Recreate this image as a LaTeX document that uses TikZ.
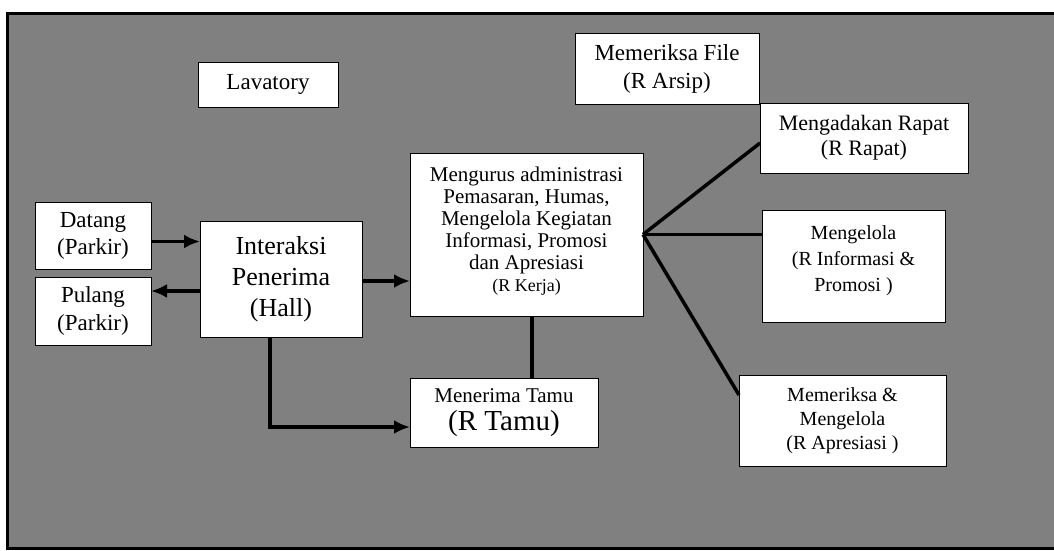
\documentclass[tikz,border=0pt]{standalone}
\usepackage{fontspec}
\setmainfont{Liberation Serif}
\usetikzlibrary{arrows.meta,calc}
\definecolor{bg}{gray}{0.5}
\newcommand{\fs}[2]{\fontsize{#1}{#2}\selectfont}
\begin{document}
\begin{tikzpicture}[x=1pt,y=-1pt,
  box/.style={draw=black, line width=1pt, fill=white, inner sep=0pt, outer sep=0pt, align=center},
  words/.style={inner sep=0pt, align=center},
  link/.style={line width=3.5pt, black},
  arr/.style={link, -{Latex[length=16pt,width=14pt]}}]
\useasboundingbox (0,0) rectangle (1054,550);
% backdrop
\path[fill=white] (0,0) rectangle (1054,550);
\draw[line width=3pt, fill=bg] (7,13) rectangle (1060,548);

% rooms
\node[box, minimum width=140pt, minimum height=45pt, font=\fs{23}{27}] (lav) at (268,84.5) {Lavatory};
\node[box, minimum width=184pt, minimum height=71pt, font=\fs{23}{28}] (arsip) at (667,68.5) {Memeriksa File\\(R Arsip)};
\node[box, minimum width=208pt, minimum height=70pt, font=\fs{22}{25}] (rapat) at (864,138) {Mengadakan Rapat\\(R Rapat)};
\node[box, minimum width=183pt, minimum height=112pt] (info) at (853.5,266) {};
\node[words, font=\fs{20}{26}] (infoT) at ([yshift=5pt]info.center) {Mengelola\\(R Informasi \&\\Promosi )};
\node[box, minimum width=207pt, minimum height=91pt, font=\fs{20}{24}] (apres) at (842.5,420.5) {Memeriksa \&\\Mengelola\\(R Apresiasi )};
\node[box, minimum width=188pt, minimum height=69pt, font=\fs{21}{28}] (tamu) at (504,412.5) {Menerima Tamu\\{\fs{29}{28}(R Tamu)}};
\node[box, minimum width=233pt, minimum height=163pt] (kerja) at (526.5,234.5) {};
\node[words, font=\fs{21}{22}] (kerjaT) at ([yshift=3pt]kerja.center)
  {Mengurus administrasi\\Pemasaran, Humas,\\Mengelola Kegiatan\\Informasi, Promosi\\dan Apresiasi\\{\fs{18}{22}(R Kerja)}};
\node[box, minimum width=162pt, minimum height=116pt, font=\fs{26}{31}] (hall) at (281,279) {Interaksi\\Penerima\\(Hall)};
\node[box, minimum width=116pt, minimum height=67pt, font=\fs{23}{27}] (datang) at (93,235.5) {Datang\\(Parkir)};
\node[box, minimum width=116pt, minimum height=68pt, font=\fs{23}{28}] (pulang) at (93,311) {Pulang\\(Parkir)};

% anchor points of the connectors
\coordinate (dIn)  at ([yshift=-6pt]datang.east);
\coordinate (pOut) at ([yshift=20pt]pulang.east);
\coordinate (hOut) at ([yshift=-2pt]hall.east);
\coordinate (hDown) at ([xshift=-11pt]hall.south);
\coordinate (tIn)  at ([yshift=-14.5pt]tamu.west);
\coordinate (kDown) at (532,0);

% flows
\draw[arr] (dIn) -- (dIn -| hall.west);
\draw[arr] (pOut -| hall.west) -- (pOut);
\draw[arr] (hOut) -- (hOut -| kerja.west);
\draw[arr] (hDown) |- (tIn);
\draw[link] (kerja.south -| kDown) -- (tamu.north -| kDown);

% fan out of the work room
\draw[link] (kerja.east) -- ([yshift=-5pt]rapat.west);
\draw[link] (kerja.east) -- (kerja.east -| info.west);
\draw[link] (kerja.east) -- ([yshift=-20pt]apres.north west);
\end{tikzpicture}
\end{document}
